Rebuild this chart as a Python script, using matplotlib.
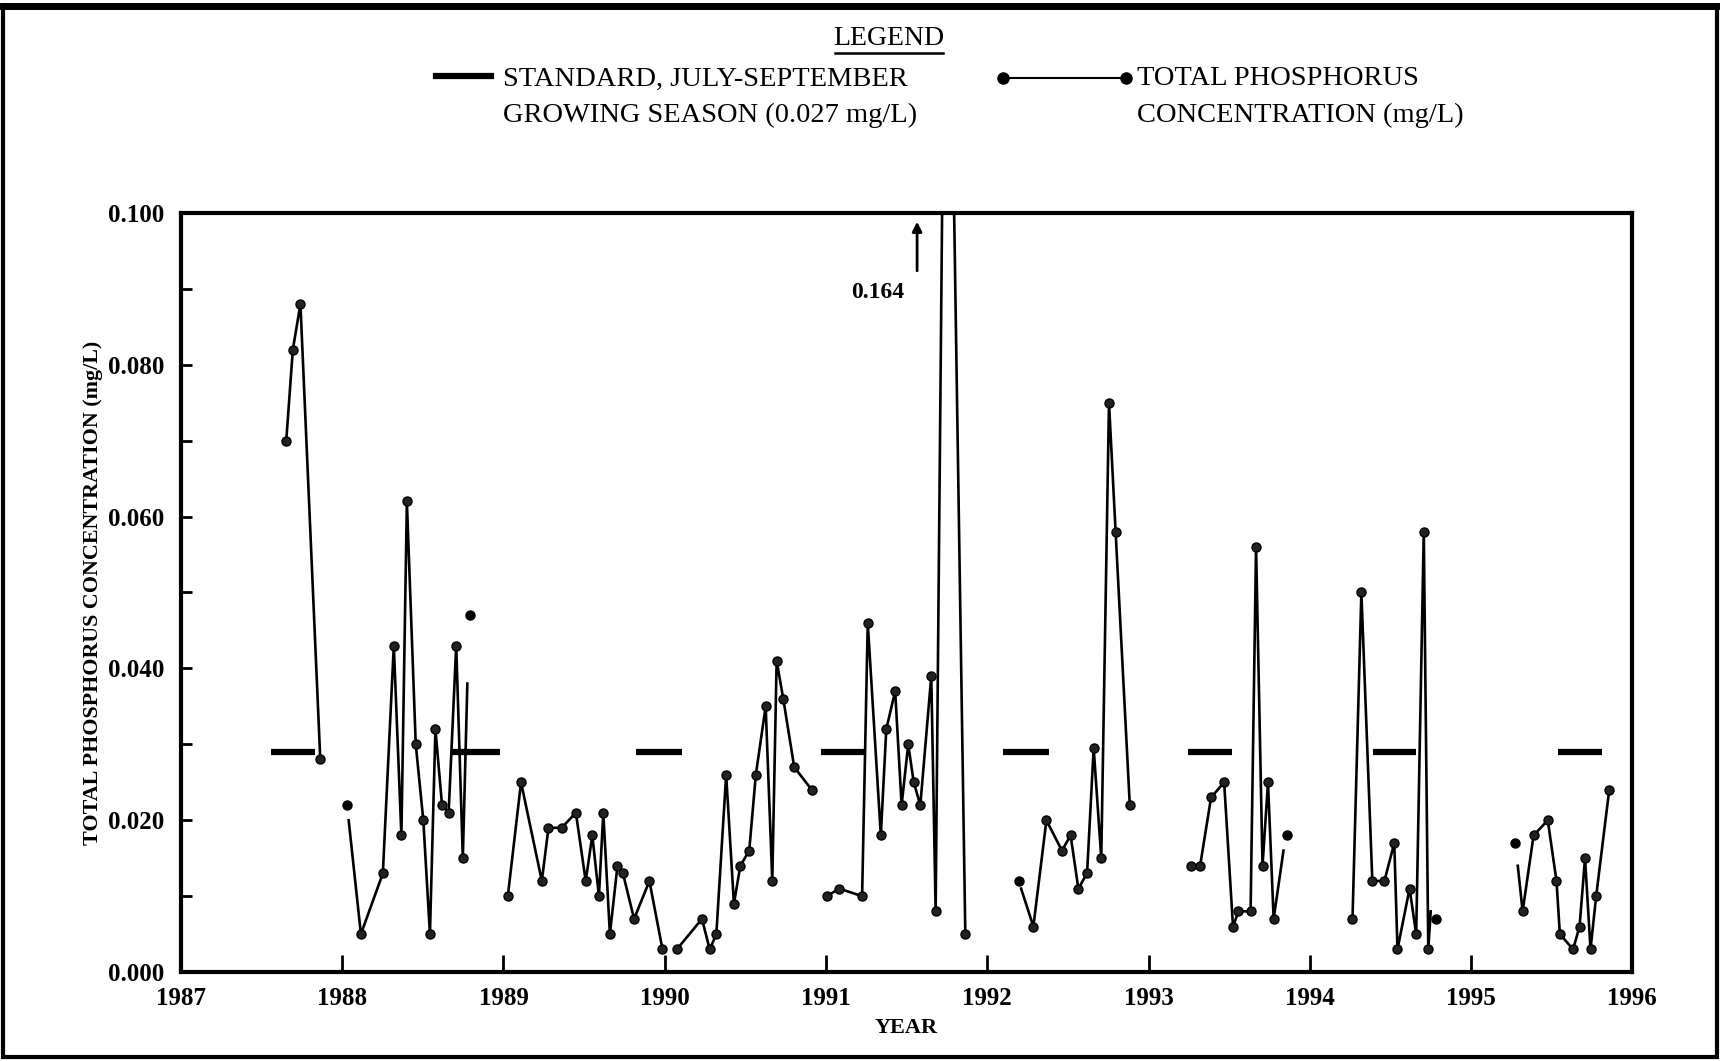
import numpy as np
import matplotlib
matplotlib.use("Agg")
import matplotlib.pyplot as plt
from matplotlib.patches import Rectangle
from matplotlib.lines import Line2D

# fonts
plt.rcParams['font.family'] = ['Liberation Serif', 'DejaVu Serif']

# ---- data (decimal year, mg/L) ----
# standard bars, July-September growing season
std_start = [1987.56, 1988.68, 1989.82, 1990.97, 1992.10, 1993.245, 1994.39, 1995.54]
std_end = [1987.83, 1988.98, 1990.11, 1991.245, 1992.38, 1993.52, 1994.66, 1995.81]
std_level = 0.029

# total phosphorus, one run per sampling year
tp_dates_87 = [1987.653, 1987.694, 1987.741, 1987.864]
tp_vals_87 = [0.070, 0.082, 0.088, 0.028]

tp_dates_88 = [1988.04, 1988.116, 1988.252, 1988.32, 1988.367, 1988.401, 1988.456, 1988.503,
               1988.544, 1988.578, 1988.619, 1988.66, 1988.707, 1988.748, 1988.776]
tp_vals_88 = [0.020, 0.005, 0.013, 0.043, 0.018, 0.062, 0.030, 0.020,
              0.005, 0.032, 0.022, 0.021, 0.043, 0.015, 0.038]

tp_dates_89 = [1989.027, 1989.109, 1989.238, 1989.279, 1989.361, 1989.449, 1989.51, 1989.551,
               1989.592, 1989.619, 1989.66, 1989.707, 1989.741, 1989.81, 1989.905, 1989.986]
tp_vals_89 = [0.010, 0.025, 0.012, 0.019, 0.019, 0.021, 0.012, 0.018,
              0.010, 0.021, 0.005, 0.014, 0.013, 0.007, 0.012, 0.003]

tp_dates_90 = [1990.075, 1990.231, 1990.279, 1990.32, 1990.381, 1990.429, 1990.469, 1990.524,
               1990.565, 1990.626, 1990.667, 1990.694, 1990.735, 1990.803, 1990.912]
tp_vals_90 = [0.003, 0.007, 0.003, 0.005, 0.026, 0.009, 0.014, 0.016,
              0.026, 0.035, 0.012, 0.041, 0.036, 0.027, 0.024]

tp_dates_91 = [1991.007, 1991.082, 1991.224, 1991.259, 1991.34, 1991.374, 1991.429, 1991.469,
               1991.51, 1991.544, 1991.585, 1991.653, 1991.68, 1991.748, 1991.864]
tp_vals_91 = [0.010, 0.011, 0.010, 0.046, 0.018, 0.032, 0.037, 0.022,
              0.030, 0.025, 0.022, 0.039, 0.008, 0.164, 0.005]

tp_dates_92 = [1992.21, 1992.286, 1992.367, 1992.463, 1992.517, 1992.565, 1992.619, 1992.66,
               1992.707, 1992.755, 1992.796, 1992.884]
tp_vals_92 = [0.011, 0.006, 0.020, 0.016, 0.018, 0.011, 0.013, 0.0295,
              0.015, 0.075, 0.058, 0.022]

tp_dates_93 = [1993.265, 1993.32, 1993.388, 1993.469, 1993.524, 1993.558, 1993.633, 1993.667,
               1993.707, 1993.741, 1993.776, 1993.837]
tp_vals_93 = [0.014, 0.014, 0.023, 0.025, 0.006, 0.008, 0.008, 0.056,
              0.014, 0.025, 0.007, 0.016]

tp_dates_94 = [1994.265, 1994.32, 1994.388, 1994.463, 1994.524, 1994.544, 1994.619, 1994.66,
               1994.707, 1994.735, 1994.75]
tp_vals_94 = [0.007, 0.050, 0.012, 0.012, 0.017, 0.003, 0.011, 0.005,
              0.058, 0.003, 0.008]

tp_dates_95 = [1995.29, 1995.32, 1995.388, 1995.476, 1995.53, 1995.551, 1995.633, 1995.673,
               1995.707, 1995.741, 1995.776, 1995.857]
tp_vals_95 = [0.014, 0.008, 0.018, 0.020, 0.012, 0.005, 0.003, 0.006,
              0.015, 0.003, 0.010, 0.024]

# loose points not joined to a run
stray_dates = [1988.03, 1988.79, 1992.20, 1993.86, 1994.78, 1995.27]
stray_vals = [0.022, 0.047, 0.012, 0.018, 0.007, 0.017]

year_ticks = list(range(1987, 1997))
conc_ticks = [0.000, 0.020, 0.040, 0.060, 0.080, 0.100]

# ---- figure ----
fig = plt.figure(figsize=(17.2, 10.61), dpi=100)
ax = fig.add_axes([0.1052, 0.0838, 0.8438, 0.7156])

# runs, (dates, values, ends drawn without marker)
runs = [
    (tp_dates_87, tp_vals_87, []),
    (tp_dates_88, tp_vals_88, [0, -1]),
    (tp_dates_89, tp_vals_89, []),
    (tp_dates_90, tp_vals_90, []),
    (tp_dates_91, tp_vals_91, []),
    (tp_dates_92, tp_vals_92, [0]),
    (tp_dates_93, tp_vals_93, [-1]),
    (tp_dates_94, tp_vals_94, [-1]),
    (tp_dates_95, tp_vals_95, [0]),
]
for d, v, bare in runs:
    n = len(d)
    skip = [b % n for b in bare]
    marks = [i for i in range(n) if i not in skip]
    ax.plot(d, v, '-', color='black', lw=1.9, marker='o', ms=6.5,
            markevery=marks, mfc='#222222', mec='black', zorder=3)

ax.plot(stray_dates, stray_vals, 'o', color='black', ms=6.5, zorder=3)

ax.hlines([std_level] * len(std_start), std_start, std_end, color='black', lw=4.5, zorder=2)

# 0.164 off-scale note
ax.annotate('', xy=(1991.565, 0.0992), xytext=(1991.565, 0.0920),
            arrowprops=dict(arrowstyle='-|>', color='black', lw=2, mutation_scale=14))
ax.text(1991.32, 0.0895, '0.164', ha='center', va='center', fontsize=17, fontweight='bold')

ax.set_xlim(1987, 1996)
ax.set_ylim(0, 0.1)
ax.set_xticks(year_ticks)
ax.set_xticklabels([str(y) for y in year_ticks], fontsize=18, fontweight='bold')
ax.set_yticks(np.arange(0, 0.1001, 0.01), minor=True)
ax.set_yticks(conc_ticks)
ax.set_yticklabels(['%.3f' % c for c in conc_ticks], fontsize=18, fontweight='bold')
ax.tick_params(axis='x', direction='in', length=12, width=2, pad=11)
ax.tick_params(axis='y', direction='in', length=8, width=2, pad=12)
ax.tick_params(axis='y', which='minor', direction='in', length=8, width=2)
ax.tick_params(top=False, right=False)
for s in ax.spines.values():
    s.set_linewidth(3)

ax.set_xlabel('YEAR', fontsize=16, fontweight='bold')
ax.xaxis.set_label_coords(0.5, -0.061)
ax.set_ylabel('TOTAL PHOSPHORUS CONCENTRATION (mg/L)', fontsize=15.8, fontweight='bold')
ax.yaxis.set_label_coords(-0.054, 0.5)

# ---- legend block ----
fig.text(0.5166, 0.9639, 'LEGEND', ha='center', va='center', fontsize=20)
fig.add_artist(Line2D([0.4855, 0.5485], [0.9505, 0.9505], color='black', lw=1.8))

fig.add_artist(Line2D([0.2532, 0.2857], [0.9287, 0.9287], color='black', lw=4.5))
fig.text(0.2927, 0.9256, 'STANDARD, JULY-SEPTEMBER', ha='left', va='center', fontsize=20.5)
fig.text(0.2927, 0.8915, 'GROWING SEASON (0.027 mg/L)', ha='left', va='center', fontsize=20.5)

fig.add_artist(Line2D([0.583, 0.6544], [0.9266, 0.9266], color='black', lw=1.5,
                      marker='o', ms=8, markevery=[0, 1]))
fig.text(0.6608, 0.9256, 'TOTAL PHOSPHORUS', ha='left', va='center', fontsize=20.5)
fig.text(0.6608, 0.8915, 'CONCENTRATION (mg/L)', ha='left', va='center', fontsize=20.5)

# outer frame
fig.add_artist(Rectangle((0.002, 0.004), 0.996, 0.9906, transform=fig.transFigure,
                         fill=False, ec='black', lw=3))
fig.add_artist(Line2D([0.002, 0.998], [0.9946, 0.9946], color='black', lw=5))

fig.savefig('out.png', dpi=100)
